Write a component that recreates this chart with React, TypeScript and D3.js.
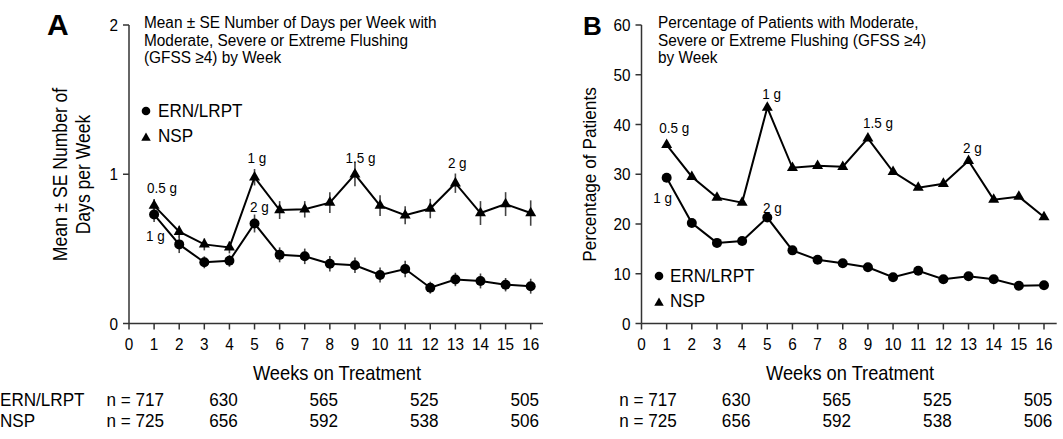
import React from 'react';
import * as d3 from 'd3';

// ---------- data ----------
const weeks = [1, 2, 3, 4, 5, 6, 7, 8, 9, 10, 11, 12, 13, 14, 15, 16];
const meanERN = [0.73, 0.53, 0.41, 0.42, 0.67, 0.46, 0.45, 0.4, 0.39, 0.325, 0.365, 0.24, 0.295, 0.285, 0.26, 0.25];
const seERN = [0.05, 0.058, 0.04, 0.04, 0.06, 0.05, 0.052, 0.052, 0.052, 0.05, 0.055, 0.04, 0.045, 0.05, 0.045, 0.05];
const meanNSP = [0.79, 0.615, 0.53, 0.51, 0.98, 0.76, 0.765, 0.81, 1.0, 0.79, 0.725, 0.77, 0.94, 0.74, 0.8, 0.74];
const seNSP = [0.045, 0.04, 0.04, 0.04, 0.055, 0.06, 0.055, 0.07, 0.08, 0.07, 0.06, 0.065, 0.065, 0.08, 0.08, 0.085];
const pctERN = [29.3, 20.2, 16.2, 16.6, 21.3, 14.7, 12.8, 12.1, 11.3, 9.3, 10.6, 8.9, 9.5, 8.9, 7.6, 7.7];
const pctNSP = [35.9, 29.5, 25.3, 24.3, 43.4, 31.3, 31.7, 31.5, 37.2, 30.5, 27.3, 28.1, 32.7, 24.9, 25.5, 21.4];

const xTicks = [0, 1, 2, 3, 4, 5, 6, 7, 8, 9, 10, 11, 12, 13, 14, 15, 16];
const yTicksA = [0, 1, 2];
const yTicksB = [0, 10, 20, 30, 40, 50, 60];

const nWeeks = [1, 4, 8, 12, 16];
const nERN = [717, 630, 565, 525, 505];
const nNSP = [725, 656, 592, 538, 506];

const titleA = ['Mean \u00B1 SE Number of Days per Week with', 'Moderate, Severe or Extreme Flushing', '(GFSS \u22654) by Week'];
const titleB = ['Percentage of Patients with Moderate,', 'Severe or Extreme Flushing (GFSS \u22654)', 'by Week'];
const yLabelA = ['Mean \u00B1 SE Number of', 'Days per Week'];
const yLabelB = 'Percentage of Patients';
const xLabel = 'Weeks on Treatment';
const seriesNames = ['ERN/LRPT', 'NSP'];

// annotations: [week, series, label]
const annA: [number, string, string][] = [
  [1, 'NSP', '0.5 g'], [1, 'ERN', '1 g'], [5, 'NSP', '1 g'], [5, 'ERN', '2 g'], [9, 'NSP', '1.5 g'], [13, 'NSP', '2 g'],
];
const annB: [number, string, string][] = [
  [1, 'NSP', '0.5 g'], [1, 'ERN', '1 g'], [5, 'NSP', '1 g'], [5, 'ERN', '2 g'], [9, 'NSP', '1.5 g'], [13, 'NSP', '2 g'],
];
// layout offsets for annotations (dx, dy relative to point)
const annOffA = [[-7, -13], [-8, 26], [-7, -14], [-4.5, -11.5], [-9.5, -11], [-7.5, -15]];
const annOffB = [[-7.5, -12], [-13.5, 25], [-5, -8.6], [-4.3, -4.5], [-5, -10.4], [-5.5, -7.8]];

const FONT = "'Liberation Sans', Arial, Helvetica, sans-serif";
const K = 0.9; // horizontal compression to mimic a narrow face

function T(props: { x: number; y: number; s: number; a?: string; rot?: boolean; w?: string; children: React.ReactNode }) {
  const { x, y, s, a = 'start', rot = false, w, children } = props;
  const tr = `translate(${x},${y})${rot ? ' rotate(-90)' : ''} scale(${K},1)`;
  return (
    <text transform={tr} fontSize={s} textAnchor={a as any} fontWeight={w} fill="#000">
      {children}
    </text>
  );
}

function tri(x: number, y: number, s = 11) {
  const h = (s * Math.sqrt(3)) / 2;
  return `M${x},${y - (2 * h) / 3}L${x + s / 2},${y + h / 3}L${x - s / 2},${y + h / 3}Z`;
}

type PanelProps = {
  x0: number; x16: number; xEnd: number; yDomain: [number, number]; yTicks: number[];
  ern: number[]; nsp: number[]; seE?: number[]; seN?: number[];
  ann: [number, string, string][]; annOff: number[][];
};

function Panel(p: PanelProps) {
  const x = d3.scaleLinear().domain([0, 16]).range([p.x0, p.x16]);
  const y = d3.scaleLinear().domain(p.yDomain).range([323.5, 25]);
  const line = d3.line<number>().x((_, i) => x(weeks[i])).y((d) => y(d));
  const yBase = y(0);
  return (
    <g>
      <line x1={p.x0} x2={p.x0} y1={y(p.yDomain[1])} y2={yBase} stroke="#333" strokeWidth={1.5} />
      <line x1={p.x0} x2={p.xEnd} y1={yBase} y2={yBase} stroke="#333" strokeWidth={1.5} />
      {p.yTicks.map((t) => (
        <g key={'y' + t}>
          <line x1={p.x0 - 6} x2={p.x0} y1={y(t)} y2={y(t)} stroke="#333" strokeWidth={1.5} />
          <T x={p.x0 - 11} y={y(t) + 6} s={17} a="end">{t}</T>
        </g>
      ))}
      {xTicks.map((t) => (
        <g key={'x' + t}>
          <line x1={x(t)} x2={x(t)} y1={yBase} y2={yBase + 6} stroke="#333" strokeWidth={1.5} />
          <T x={x(t)} y={350} s={17} a="middle">{t}</T>
        </g>
      ))}
      {p.seE && p.ern.map((d, i) => (
        <line key={'eE' + i} x1={x(weeks[i])} x2={x(weeks[i])} y1={y(d - p.seE![i])} y2={y(d + p.seE![i])} stroke="#444" strokeWidth={1.6} />
      ))}
      {p.seN && p.nsp.map((d, i) => (
        <line key={'eN' + i} x1={x(weeks[i])} x2={x(weeks[i])} y1={y(d - p.seN![i])} y2={y(d + p.seN![i])} stroke="#444" strokeWidth={1.6} />
      ))}
      <path d={line(p.nsp) || ''} fill="none" stroke="#000" strokeWidth={2} />
      <path d={line(p.ern) || ''} fill="none" stroke="#000" strokeWidth={2} />
      {p.nsp.map((d, i) => <path key={'tN' + i} d={tri(x(weeks[i]), y(d))} fill="#000" />)}
      {p.ern.map((d, i) => <circle key={'cE' + i} cx={x(weeks[i])} cy={y(d)} r={5} fill="#000" />)}
      {p.ann.map(([w, s, lab], i) => {
        const v = s === 'NSP' ? p.nsp[w - 1] : p.ern[w - 1];
        return <T key={'a' + i} x={x(w) + p.annOff[i][0]} y={y(v) + p.annOff[i][1]} s={15}>{lab}</T>;
      })}
      <T x={(p.x0 + p.xEnd) / 2 + 1} y={380} s={20.3} a="middle">{xLabel}</T>
      {nWeeks.map((w, i) => (
        <g key={'n' + i}>
          {i === 0 ? (
            <>
              <T x={x(w) + 10} y={406} s={19} a="end">{'n = ' + nERN[i]}</T>
              <T x={x(w) + 10} y={427} s={19} a="end">{'n = ' + nNSP[i]}</T>
            </>
          ) : (
            <>
              <T x={x(w) - 6} y={406} s={19} a="middle">{nERN[i]}</T>
              <T x={x(w) - 6} y={427} s={19} a="middle">{nNSP[i]}</T>
            </>
          )}
        </g>
      ))}
    </g>
  );
}

export default function App() {
  return (
    <svg width={1063} height={439} style={{ position: 'absolute', left: 0, top: 0, background: '#fff' }} fontFamily={FONT}>
      <rect width={1063} height={439} fill="#fff" />
      <text x={47} y={34.5} fontSize={30} fontWeight="bold">A</text>
      <text x={583} y={35} fontSize={26} fontWeight="bold">B</text>
      {titleA.map((t, i) => <T key={'ta' + i} x={144} y={28.3 + i * 17.5} s={17.1}>{t}</T>)}
      {titleB.map((t, i) => <T key={'tb' + i} x={658} y={28.3 + i * 17.5} s={17.1}>{t}</T>)}
      {yLabelA.map((t, i) => (
        <T key={'yl' + i} x={67 + i * 23} y={174.5} s={19.5} a="middle" rot>{t}</T>
      ))}
      <T x={596} y={174.5} s={19.2} a="middle" rot>{yLabelB}</T>
      {/* legends */}
      <circle cx={146} cy={111} r={4.3} fill="#000" />
      <T x={158} y={117} s={19}>{seriesNames[0]}</T>
      <path d={tri(146, 138, 9.5)} fill="#000" />
      <T x={158} y={142} s={19}>{seriesNames[1]}</T>
      <circle cx={659} cy={276} r={4.3} fill="#000" />
      <T x={670} y={282} s={19}>{seriesNames[0]}</T>
      <path d={tri(659, 303, 9.5)} fill="#000" />
      <T x={670} y={307} s={19}>{seriesNames[1]}</T>
      {/* row labels */}
      <T x={0} y={406} s={19}>{seriesNames[0]}</T>
      <T x={0} y={427} s={19}>{seriesNames[1]}</T>
      <Panel x0={129} x16={530.7} xEnd={543} yDomain={[0, 2]} yTicks={yTicksA} ern={meanERN} nsp={meanNSP} seE={seERN} seN={seNSP} ann={annA} annOff={annOffA} />
      <Panel x0={641.5} x16={1044} xEnd={1056.7} yDomain={[0, 60]} yTicks={yTicksB} ern={pctERN} nsp={pctNSP} ann={annB} annOff={annOffB} />
    </svg>
  );
}
